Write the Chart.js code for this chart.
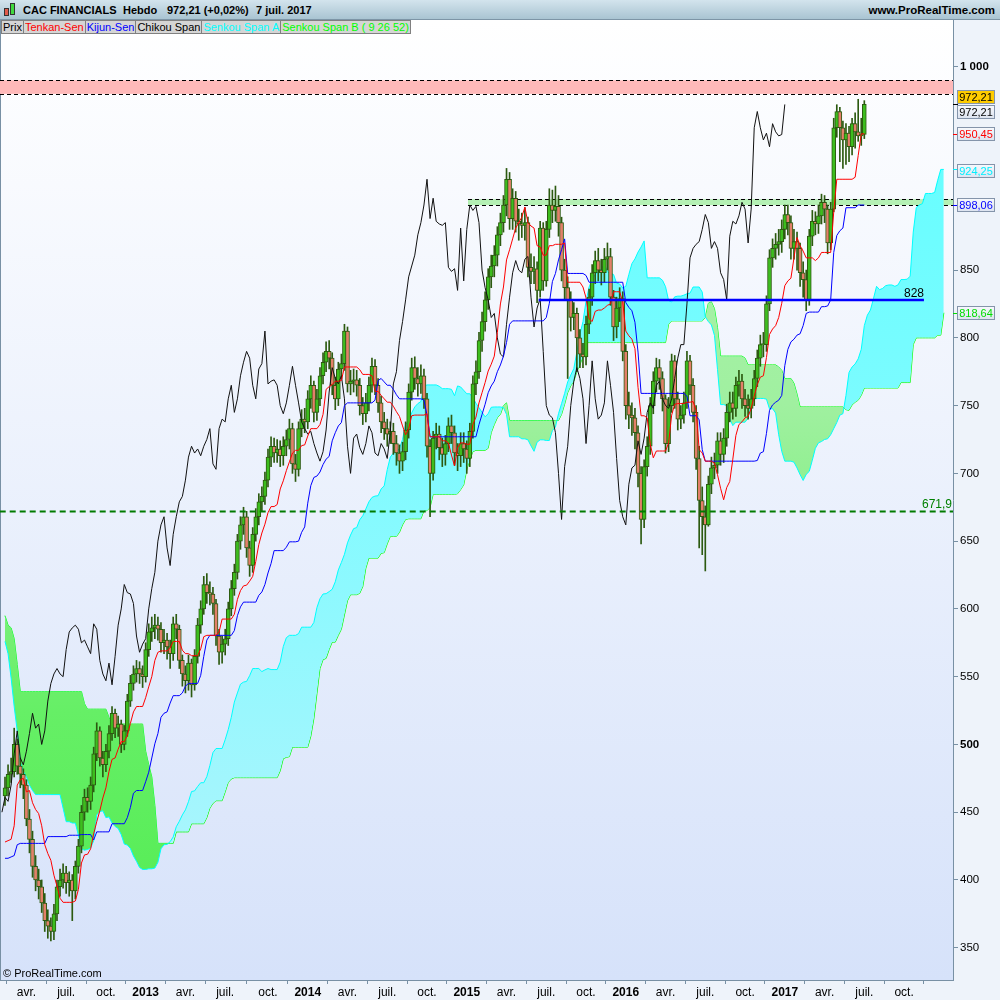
<!DOCTYPE html>
<html>
<head>
<meta charset="utf-8">
<script src="https://cdn.jsdelivr.net/npm/chart.js@4.4.0/dist/chart.umd.min.js"></script>
<style>
html, body { margin: 0; padding: 0; background: #eef3fa; }
#wrap { position: relative; width: 1000px; height: 1000px; overflow: hidden; font-family: "Liberation Sans", Arial, sans-serif; }
#c { position: absolute; left: 0; top: 0; }
#top { position: absolute; left: 0; top: 0; width: 1000px; height: 19px; background: linear-gradient(#d3e4ed, #a9c4d2); border-bottom: 1px solid #7d95a6; }
#top span { position: absolute; top: 0; line-height: 20px; font-size: 11px; font-weight: bold; color: #000; white-space: nowrap; }
#top span.url { font-size: 11.5px; }
.ico { position: absolute; width: 3px; border: 1px solid #333; }
#legend { position: absolute; left: 1px; top: 20px; display: flex; }
#legend span { display: block; background: #d5d5d5; border: 1px solid #808080; margin-right: -1px; font-size: 11px; line-height: 12px; height: 12px; padding: 0 1px; white-space: nowrap; }
.tag { position: absolute; left: 957px; width: 36px; height: 12px; border: 1px solid #8494aa; background: linear-gradient(#f6f8fc, #dde4f0); font-size: 11px; line-height: 12px; text-align: center; }
.dash { position: absolute; left: 953px; width: 5px; height: 1px; }
.lbl { position: absolute; font-size: 12px; line-height: 12px; white-space: nowrap; }
</style>
</head>
<body>
<div id="wrap">
  <canvas id="c" width="1000" height="1000"></canvas>
  <div id="top">
    <div class="ico" style="left:4px;top:8px;height:6px;background:#e05a4a"></div>
    <div class="ico" style="left:10px;top:3px;height:10px;background:#3fd93f"></div>
    <span style="left:23px">CAC FINANCIALS</span>
    <span style="left:123px">Hebdo</span>
    <span style="left:167px">972,21 (+0,02%)</span>
    <span style="left:256px">7 juil. 2017</span>
    <span class="url" style="right:5px">www.ProRealTime.com</span>
  </div>
  <div id="legend">
    <span>Prix</span>
    <span style="color:#ff0000">Tenkan-Sen</span>
    <span style="color:#0000ff">Kijun-Sen</span>
    <span>Chikou Span</span>
    <span style="color:#00ffff">Senkou Span A</span>
    <span style="color:#00ff00">Senkou Span B ( 9 26 52)</span>
  </div>
  <div class="lbl" style="left:3px;top:967px;font-size:11px">© ProRealTime.com</div>
</div>
<script>
// weekly bars, week 0 = mid Feb 2012, last week = 7 juil. 2017
const open = [
  462, 468, 478, 480, 500, 484, 478, 470, 445, 430,
  410, 400, 395, 383, 370, 366, 362, 375, 395, 400,
  405, 398, 400, 392, 410, 425, 450, 461, 458, 470,
  493, 510, 490, 485, 495, 508, 523, 512, 515, 500,
  510, 532, 545, 552, 556, 552, 550, 570, 583, 586,
  588, 585, 575, 577, 572, 567, 589, 585, 562, 552,
  547, 560, 544, 565, 588, 600, 618, 612, 611, 604,
  580, 568, 574, 578, 600, 615, 627, 650, 662, 668,
  645, 632, 655, 668, 679, 683, 695, 712, 720, 715,
  718, 713, 720, 725, 733, 707, 703, 733, 740, 738,
  755, 765, 745, 755, 772, 782, 790, 785, 765, 755,
  777, 781, 805, 766, 768, 769, 765, 750, 744, 752,
  765, 779, 765, 752, 738, 733, 729, 731, 722, 715,
  709, 716, 732, 760, 778, 770, 766, 772, 755, 720,
  700, 726, 729, 719, 714, 722, 735, 730, 715, 713,
  722, 718, 711, 731, 766, 775, 798, 812, 828, 845,
  853, 861, 876, 885, 898, 917, 888, 903, 886, 884,
  883, 885, 852, 849, 851, 835, 881, 842, 880, 898,
  894, 897, 885, 850, 837, 828, 815, 818, 800, 788,
  786, 810, 830, 848, 857, 850, 848, 858, 860, 830,
  808, 822, 829, 790, 750, 743, 741, 730, 700, 666,
  705, 720, 750, 768, 778, 770, 755, 722, 750, 783,
  755, 740, 743, 752, 783, 765, 745, 711, 680, 668,
  662, 692, 704, 706, 724, 714, 726, 745, 752, 748,
  765, 768, 755, 750, 748, 755, 770, 785, 795, 795,
  825, 859, 866, 869, 871, 880, 891, 885, 866, 871,
  866, 848, 843, 828, 875, 886, 884, 890, 900, 895,
  870, 895, 955, 967, 955, 946, 951, 941, 958, 952,
  949, 950
];
const high = [
  476, 485, 490, 512, 504, 490, 482, 474, 452, 436,
  418, 408, 400, 390, 378, 372, 382, 400, 408, 412,
  410, 406, 404, 414, 430, 455, 467, 468, 476, 498,
  516, 513, 495, 500, 514, 528, 526, 521, 518, 514,
  537, 551, 558, 562, 561, 558, 575, 589, 594, 596,
  594, 590, 585, 582, 577, 594, 596, 588, 566, 558,
  566, 563, 570, 593, 606, 624, 626, 620, 616, 607,
  585, 580, 585, 605, 621, 633, 655, 668, 675, 672,
  650, 660, 674, 685, 690, 701, 718, 727, 726, 725,
  724, 727, 732, 740, 737, 714, 738, 747, 748, 761,
  772, 768, 762, 778, 789, 797, 798, 789, 771, 782,
  788, 810, 808, 776, 777, 776, 770, 756, 759, 771,
  785, 784, 770, 757, 745, 740, 738, 737, 728, 721,
  723, 738, 766, 785, 786, 778, 780, 777, 759, 725,
  731, 737, 735, 726, 728, 741, 743, 735, 722, 730,
  730, 724, 737, 772, 783, 804, 819, 834, 851, 861,
  868, 882, 892, 905, 925, 922, 910, 908, 895, 892,
  896, 889, 862, 860, 856, 886, 885, 886, 910, 909,
  912, 905, 889, 858, 845, 834, 826, 822, 806, 796,
  816, 836, 854, 864, 866, 858, 866, 870, 866, 835,
  830, 837, 834, 795, 760, 752, 748, 735, 705, 710,
  727, 756, 775, 785, 784, 775, 758, 756, 788, 787,
  760, 750, 760, 790, 787, 770, 750, 720, 690, 676,
  698, 712, 715, 730, 730, 733, 751, 760, 760, 771,
  776, 773, 762, 758, 762, 776, 791, 802, 804, 831,
  865, 873, 877, 880, 887, 898, 898, 890, 880, 878,
  870, 856, 850, 880, 894, 893, 898, 906, 905, 898,
  900, 962, 972, 970, 960, 958, 956, 962, 966, 976,
  962, 975
];
const low = [
  455, 462, 472, 476, 478, 468, 460, 440, 420, 402,
  392, 386, 376, 362, 357, 355, 356, 370, 388, 394,
  390, 388, 370, 386, 405, 420, 444, 450, 452, 465,
  488, 484, 476, 480, 490, 503, 505, 506, 494, 496,
  506, 528, 540, 546, 545, 542, 546, 565, 576, 578,
  577, 568, 567, 563, 556, 562, 578, 556, 543, 538,
  540, 535, 540, 560, 582, 596, 604, 603, 596, 573,
  559, 560, 566, 573, 595, 610, 622, 644, 655, 638,
  624, 627, 650, 662, 672, 677, 690, 705, 708, 708,
  705, 706, 713, 718, 700, 694, 698, 727, 730, 733,
  748, 738, 739, 750, 766, 775, 777, 758, 747, 750,
  770, 776, 760, 758, 760, 757, 743, 736, 738, 746,
  760, 758, 745, 730, 725, 720, 722, 714, 706, 700,
  702, 710, 726, 754, 762, 757, 759, 748, 712, 668,
  695, 718, 710, 705, 706, 716, 722, 706, 702, 705,
  708, 700, 705, 726, 758, 770, 790, 805, 821, 837,
  845, 853, 868, 878, 890, 880, 880, 878, 872, 874,
  872, 845, 840, 840, 826, 830, 835, 838, 874, 885,
  886, 875, 842, 828, 770, 805, 806, 775, 778, 778,
  780, 803, 824, 840, 842, 839, 841, 850, 824, 798,
  800, 812, 783, 740, 733, 728, 718, 690, 648, 660,
  698, 714, 744, 760, 762, 746, 715, 716, 745, 748,
  732, 733, 737, 748, 758, 738, 703, 645, 640, 628,
  661, 685, 696, 700, 706, 708, 720, 738, 740, 742,
  757, 748, 742, 740, 741, 750, 764, 779, 786, 790,
  820, 852, 858, 861, 863, 873, 876, 858, 858, 850,
  838, 830, 820, 824, 868, 876, 877, 884, 885, 862,
  865, 893, 948, 930, 925, 928, 930, 935, 940, 945,
  942, 947
];
const close = [
  468, 478, 480, 500, 484, 478, 470, 445, 430, 410,
  400, 395, 383, 370, 366, 362, 375, 395, 400, 405,
  398, 400, 392, 410, 425, 450, 461, 458, 470, 493,
  510, 490, 485, 495, 508, 523, 512, 515, 500, 510,
  532, 545, 552, 556, 552, 550, 570, 583, 586, 588,
  585, 575, 577, 572, 567, 589, 585, 562, 552, 547,
  560, 544, 565, 588, 600, 618, 612, 611, 604, 580,
  568, 574, 578, 600, 615, 627, 650, 662, 668, 645,
  632, 655, 668, 679, 683, 695, 712, 720, 715, 718,
  713, 720, 725, 733, 707, 703, 733, 740, 738, 755,
  765, 745, 755, 772, 782, 790, 785, 765, 755, 777,
  781, 805, 766, 768, 769, 765, 750, 744, 752, 765,
  779, 765, 752, 738, 733, 729, 731, 722, 715, 709,
  716, 732, 760, 778, 770, 766, 772, 755, 720, 700,
  726, 729, 719, 714, 722, 735, 730, 715, 713, 722,
  718, 711, 731, 766, 775, 798, 812, 828, 845, 853,
  861, 876, 885, 898, 917, 888, 903, 886, 884, 883,
  885, 852, 849, 851, 835, 881, 842, 880, 898, 894,
  897, 885, 850, 837, 828, 815, 818, 800, 788, 786,
  810, 830, 848, 857, 850, 848, 858, 860, 830, 808,
  822, 829, 790, 750, 743, 741, 730, 700, 666, 705,
  720, 750, 768, 778, 770, 755, 722, 750, 783, 755,
  740, 743, 752, 783, 765, 745, 711, 680, 668, 662,
  692, 704, 706, 724, 714, 726, 745, 752, 748, 765,
  768, 755, 750, 748, 755, 770, 785, 795, 795, 825,
  859, 866, 869, 871, 880, 891, 885, 866, 871, 866,
  848, 843, 828, 875, 886, 884, 890, 900, 895, 870,
  895, 955, 967, 955, 946, 951, 941, 958, 952, 949,
  950, 972.21
];

// indicator values before a full window exists (history left of the chart)
const tenkanHead = [428, 429, 430, 440, 470, 474, 475, 465];
const kijunHead = [416, 416, 417, 418, 426, 427, 427, 427, 427, 427, 427, 427, 427, 427,
  432, 432, 432, 432, 432, 432, 432, 433, 433, 433, 433];
const spanAHead = [576, 567, 549, 528, 510, 487, 480, 476, 470, 466, 463, 463, 463, 463,
  463, 463, 463, 463, 463, 453, 443, 443, 442, 442, 433, 423];
const spanBHead = [595, 588, 586, 578, 559,
  539, 539, 539, 539, 539, 539, 539, 539, 539, 539, 539, 539, 539, 539, 539, 539, 539, 539, 539, 539, 539,
  530, 526, 526, 526, 526, 526, 526, 526, 520,
  515, 515, 515, 515, 515, 515, 515, 515, 515, 515, 515,
  495, 485, 476, 455, 427, 427, 427, 427, 427, 427];

const tickWeeks = [7, 20, 33, 46, 59, 72, 86, 99, 112, 125, 138, 151, 164, 177, 190, 203, 216, 229, 242, 255, 268, 281, 294];
const tickLabels = ['avr.', 'juil.', 'oct.', '2013', 'avr.', 'juil.', 'oct.', '2014', 'avr.', 'juil.', 'oct.', '2015',
  'avr.', 'juil.', 'oct.', '2016', 'avr.', 'juil.', 'oct.', '2017', 'avr.', 'juil.', 'oct.'];
// 900 and 950 sit under the value tags
const yTicks = [350, 400, 450, 500, 550, 600, 650, 700, 750, 800, 850, 1000];

const level828 = { value: 828, fromWeek: 174.5, toWeek: 300.5 };
const support = 671.9;
const redZone = [980, 990];
const greenZone = [897.9, 902.3];
const greenZoneFrom = 151.4;
const tagValues = [972.21, 972.21, 950.45, 924.25, 898.06, 818.64];

const FONT = '"Liberation Sans", Arial, sans-serif';
const shift = 26;

function mid(from, to) {
  let hi = -Infinity, lo = Infinity;
  for (let k = Math.max(0, from); k <= to; k++) {
    hi = Math.max(hi, high[k]);
    lo = Math.min(lo, low[k]);
  }
  return (hi + lo) / 2;
}

const tenkan = close.map((_, i) => i < tenkanHead.length ? tenkanHead[i] : mid(i - 8, i));
const kijun = close.map((_, i) => i < kijunHead.length ? kijunHead[i] : mid(i - 25, i));
const spanA = [], spanB = [];
for (let j = 0; j < close.length + shift; j++) {
  const i = j - shift;
  spanA.push({ x: j, y: j < spanAHead.length ? spanAHead[j] : (tenkan[i] + kijun[i]) / 2 });
  spanB.push({ x: j, y: j < spanBHead.length ? spanBHead[j] : mid(i - 51, i) });
}
const chikou = close.map((c, i) => ({ x: i - shift, y: c })).filter(p => p.x >= -1);

const edge = '#2c5a10';
const bodies = close.map((c, i) => ({ x: i, y: [open[i], c] }));
const bodyColors = close.map((c, i) => c >= open[i] ? '#3dbd1e' : '#e3806a');
const wicks = close.map((c, i) => ({ x: i, y: [low[i], high[i]] }));

const canvas = document.getElementById('c');
const ctx = canvas.getContext('2d');
const cyanFill = ctx.createLinearGradient(0, 20, 0, 980);
cyanFill.addColorStop(0, '#5cffff');
cyanFill.addColorStop(0.45, '#7ffbff');
cyanFill.addColorStop(1, '#b6f3fc');
const greenFill = ctx.createLinearGradient(0, 20, 0, 980);
greenFill.addColorStop(0, '#b2f2b2');
greenFill.addColorStop(0.4, '#a0f0a0');
greenFill.addColorStop(0.72, '#66ef66');
greenFill.addColorStop(1, '#50ec50');

const backdrop = {
  id: 'backdrop',
  beforeDraw(chart) {
    const { ctx, chartArea: a } = chart;
    const g = ctx.createLinearGradient(0, a.top, 0, a.bottom);
    g.addColorStop(0, '#ffffff');
    g.addColorStop(1, '#d6e2fa');
    ctx.save();
    ctx.fillStyle = g;
    ctx.fillRect(a.left, a.top, a.right - a.left, a.bottom - a.top);
    ctx.strokeStyle = '#7890a4';
    ctx.beginPath();
    ctx.moveTo(a.left + 0.5, a.top);
    ctx.lineTo(a.left + 0.5, a.bottom);
    ctx.stroke();
    ctx.restore();
  },
  beforeDatasetsDraw(chart) {
    const { ctx, chartArea: a, scales: { x, y } } = chart;
    const zone = (range, x0, fill) => {
      const t = y.getPixelForValue(range[1]), b = y.getPixelForValue(range[0]);
      ctx.fillStyle = fill;
      ctx.fillRect(x0, t, a.right - x0, b - t);
      ctx.strokeStyle = '#000';
      ctx.lineWidth = 1;
      ctx.setLineDash([4, 3]);
      ctx.beginPath();
      ctx.moveTo(x0, Math.round(t) + 0.5); ctx.lineTo(a.right, Math.round(t) + 0.5);
      ctx.moveTo(x0, Math.round(b) + 0.5); ctx.lineTo(a.right, Math.round(b) + 0.5);
      ctx.stroke();
    };
    ctx.save();
    zone(redZone, a.left, '#ffb9b9');
    zone(greenZone, x.getPixelForValue(greenZoneFrom), '#b4f0b4');
    ctx.restore();
  }
};

const chart = new Chart(ctx, {
  type: 'bar',
  data: {
    datasets: [
      { type: 'line', data: [{ x: level828.fromWeek, y: level828.value }, { x: level828.toWeek, y: level828.value }],
        borderColor: '#0000ff', borderWidth: 2.5, order: 0 },
      { type: 'line', data: [{ x: -5, y: support }, { x: 320, y: support }],
        borderColor: '#007a00', borderWidth: 2, borderDash: [6, 4], order: 0 },
      { type: 'line', label: 'Tenkan-Sen', data: tenkan.map((v, i) => ({ x: i, y: v })),
        borderColor: '#ff0000', borderWidth: 1, order: 1 },
      { type: 'line', label: 'Kijun-Sen', data: kijun.map((v, i) => ({ x: i, y: v })),
        borderColor: '#0000ff', borderWidth: 1, order: 1 },
      { type: 'line', label: 'Chikou Span', data: chikou, borderColor: '#111111', borderWidth: 1, order: 1 },
      { type: 'bar', label: 'Prix', data: bodies, backgroundColor: bodyColors, borderColor: edge, borderWidth: 1,
        borderSkipped: false, barThickness: 4, grouped: false, minBarLength: 1, order: 2 },
      { type: 'bar', label: 'wick', data: wicks, backgroundColor: edge, borderWidth: 0,
        barThickness: 1, grouped: false, order: 3 },
      { type: 'line', label: 'Senkou Span A', data: spanA, borderColor: '#00ffff', borderWidth: 1, order: 4,
        fill: { target: 8, above: cyanFill, below: greenFill } },
      { type: 'line', label: 'Senkou Span B', data: spanB, borderColor: '#00ff00', borderWidth: 1, order: 4 }
    ]
  },
  options: {
    responsive: false,
    animation: false,
    layout: { padding: { top: 20, left: 0, right: 0, bottom: 0 } },
    elements: { point: { radius: 0 }, line: { tension: 0 } },
    plugins: { legend: { display: false }, tooltip: { enabled: false } },
    scales: {
      x: {
        type: 'linear', min: -1.635, max: 310, offset: false,
        grid: { drawOnChartArea: false, tickLength: 4, color: '#7890a4' },
        border: { color: '#7890a4' },
        afterBuildTicks: s => { s.ticks = tickWeeks.map(v => ({ value: v })); },
        afterFit: s => { s.height = 20; },
        ticks: {
          autoSkip: false, maxRotation: 0, padding: 1, color: '#000',
          font: c => ({ family: FONT, size: 12, weight: /^\d{4}$/.test(tickLabels[c.index]) ? 'bold' : 'normal' }),
          callback: (v, i) => tickLabels[i]
        }
      },
      y: {
        position: 'right', min: 326.2, max: 1034.5,
        grid: { drawOnChartArea: false, tickLength: 5, color: '#7890a4' },
        border: { color: '#7890a4' },
        afterBuildTicks: s => { s.ticks = yTicks.map(v => ({ value: v })); },
        afterFit: s => { s.width = 47; },
        ticks: {
          padding: 2, color: '#000',
          font: c => ({ family: FONT, size: 11.5, weight: c.tick && c.tick.value % 500 === 0 ? 'bold' : 'normal' }),
          callback: v => v === 1000 ? '1 000' : String(v)
        }
      }
    }
  },
  plugins: [backdrop]
});

// value tags on the right axis
const wrap = document.getElementById('wrap');
const tagStyle = [
  { dy: -7, color: '#000', bg: '#ffcc00' },
  { dy: 8, color: '#000' },
  { dy: 0, color: '#ff0000' },
  { dy: 2, color: '#00f0ff' },
  { dy: 0, color: '#0000ff' },
  { dy: 0, color: '#00dd00' }
];
const ys = chart.scales.y, xs = chart.scales.x;
tagValues.forEach((v, k) => {
  const st = tagStyle[k];
  const py = ys.getPixelForValue(v);
  if (k !== 1) {
    const d = document.createElement('div');
    d.className = 'dash';
    d.style.top = Math.round(py) + 'px';
    d.style.background = st.color;
    wrap.appendChild(d);
  }
  const t = document.createElement('div');
  t.className = 'tag';
  t.textContent = v.toFixed(2).replace('.', ',');
  t.style.top = Math.round(py + st.dy - 7) + 'px';
  t.style.color = st.color;
  if (st.bg) t.style.background = st.bg;
  wrap.appendChild(t);
});

const l1 = document.createElement('div');
l1.className = 'lbl';
l1.textContent = String(level828.value);
l1.style.left = Math.round(xs.getPixelForValue(level828.toWeek) - 20) + 'px';
l1.style.top = Math.round(ys.getPixelForValue(level828.value) - 13) + 'px';
wrap.appendChild(l1);

const l2 = document.createElement('div');
l2.className = 'lbl';
l2.textContent = String(support).replace('.', ',');
l2.style.right = (1000 - 952) + 'px';
l2.style.top = Math.round(ys.getPixelForValue(support) - 13) + 'px';
l2.style.color = '#008000';
wrap.appendChild(l2);
</script>
</body>
</html>
